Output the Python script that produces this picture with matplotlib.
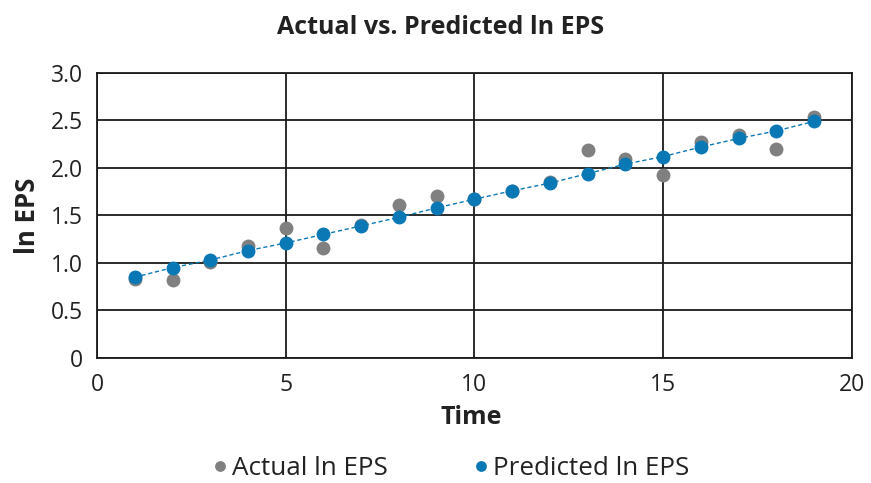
import matplotlib.pyplot as plt

plt.rcParams['font.family'] = ['Open Sans', 'DejaVu Sans']

# time periods and ln EPS values
time = [1, 2, 3, 4, 5, 6, 7, 8, 9, 10, 11, 12, 13, 14, 15, 16, 17, 18, 19]
actual = [0.83, 0.82, 1.01, 1.18, 1.37, 1.16, 1.40, 1.61, 1.70, 1.67,
          1.76, 1.85, 2.19, 2.09, 1.93, 2.27, 2.35, 2.20, 2.54]
predicted = [0.85, 0.95, 1.03, 1.13, 1.21, 1.30, 1.39, 1.48, 1.58, 1.67,
             1.76, 1.84, 1.94, 2.04, 2.12, 2.22, 2.31, 2.39, 2.49]

xticks = [0, 5, 10, 15, 20]
yticks = [0, 0.5, 1.0, 1.5, 2.0, 2.5, 3.0]
ytick_labels = ['0', '0.5', '1.0', '1.5', '2.0', '2.5', '3.0']

gray = '#808080'
blue = '#0a78b4'
text_col = '#222222'

fig = plt.figure(figsize=(8.71, 4.83), dpi=100)
ax = fig.add_axes([0.1114, 0.259, 0.8666, 0.590])

ax.grid(True, color='#1a1a1a', linewidth=1.3)
ax.set_axisbelow(True)

ax.plot(time, predicted, color=blue, linestyle=(0, (3, 2)), linewidth=1.0, zorder=2)
ax.plot(time, actual, 'o', color=gray, markersize=9, label='Actual ln EPS', zorder=3)
ax.plot(time, predicted, 'o', color=blue, markersize=9, label='Predicted ln EPS', zorder=4)

ax.set_xlim(0, 20)
ax.set_ylim(0, 3.0)
ax.set_xticks(xticks)
ax.set_yticks(yticks)
ax.set_yticklabels(ytick_labels)
ax.tick_params(length=0, labelsize=16.5, labelcolor=text_col)
ax.tick_params(axis='y', pad=10)
ax.tick_params(axis='x', pad=11)

for s in ax.spines.values():
    s.set_color('#1a1a1a')
    s.set_linewidth(1.3)

fig.text(0.506, 0.944, 'Actual vs. Predicted ln EPS', ha='center', va='center',
         fontsize=18, fontweight='bold', color=text_col)
fig.text(0.5413, 0.135, 'Time', ha='center', va='center',
         fontsize=18, fontweight='bold', color=text_col)
fig.text(0.031, 0.553, 'ln EPS', ha='center', va='center', rotation=90,
         fontsize=18.5, fontweight='bold', color=text_col)

fig.legend(loc='center', bbox_to_anchor=(0.513, 0.03), ncol=2, frameon=False,
           fontsize=18.7, handletextpad=-0.15, columnspacing=3.0, markerscale=0.75,
           handlelength=1.2, labelcolor=text_col, borderpad=0)

fig.savefig('out.png', dpi=100)
